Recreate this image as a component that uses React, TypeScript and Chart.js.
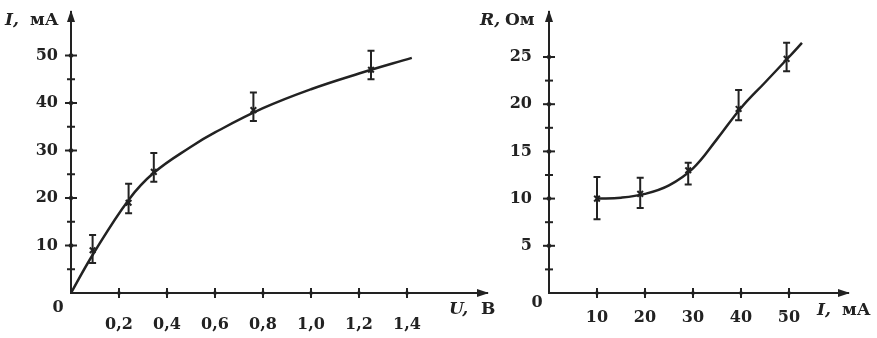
import React, { useEffect, useRef } from "react";
import { Chart, registerables } from "chart.js";

Chart.register(...registerables);

// ---------- Left chart: I (mA) vs U (V) ----------
const uMeasured = [0.09, 0.24, 0.345, 0.76, 1.25];
const iMeasured = [9, 19, 25.5, 38.5, 47];
const iErrLow = [6.3, 16.8, 23.4, 36.2, 45];
const iErrHigh = [12.2, 23, 29.5, 42.2, 51];
const uCurve = [0, 0.09, 0.24, 0.345, 0.5, 0.6, 0.8, 1.0, 1.2, 1.42];
const iCurve = [0, 8, 19.6, 25.3, 30.8, 33.8, 38.9, 42.9, 46.2, 49.5];
const uTicks = [0.2, 0.4, 0.6, 0.8, 1.0, 1.2, 1.4];
const uTickLabels = ["0,2", "0,4", "0,6", "0,8", "1,0", "1,2", "1,4"];
const iTicks = [10, 20, 30, 40, 50];
const iMinorTicks = [5, 15, 25, 35, 45];

// ---------- Right chart: R (Ohm) vs I (mA) ----------
const iMeasured2 = [10, 19, 29, 39.5, 49.5];
const rMeasured = [10, 10.5, 13, 19.5, 24.8];
const rErrLow = [7.8, 9.0, 11.5, 18.3, 23.5];
const rErrHigh = [12.3, 12.2, 13.8, 21.5, 26.5];
const iCurve2 = [10, 15, 20, 25, 30, 35, 40, 45, 50, 52.7];
const rCurve = [10, 10.1, 10.5, 11.4, 13.2, 16.3, 19.6, 22.3, 25, 26.5];
const iTicks2 = [10, 20, 30, 40, 50];
const rTicks = [5, 10, 15, 20, 25];
const rMinorTicks = [2.5, 7.5, 12.5, 17.5, 22.5];

const INK = "#222";
const FONT = "'DejaVu Serif', 'Liberation Serif', serif";

type TitlePart = { text: string; x: number; y: number; italic?: boolean };

type DecorOpts = {
  xMajor: number[];
  yMajor: number[];
  yMinor: number[];
  errX: number[];
  errLo: number[];
  errHi: number[];
  titles: TitlePart[];
  origin: { x: number; y: number };
};

const decorPlugin = {
  id: "decor",
  afterDraw(chart: any, _args: any, opts: DecorOpts) {
    const { ctx } = chart;
    const xs = chart.scales.x;
    const ys = chart.scales.y;
    const ax = xs.left;
    const ay = ys.bottom;
    ctx.save();
    ctx.strokeStyle = INK;
    ctx.fillStyle = INK;
    ctx.lineCap = "butt";

    // arrowheads
    ctx.beginPath();
    ctx.moveTo(xs.right + 2, ay);
    ctx.lineTo(xs.right - 10, ay - 4);
    ctx.lineTo(xs.right - 10, ay + 4);
    ctx.closePath();
    ctx.fill();
    ctx.beginPath();
    ctx.moveTo(ax, ys.top - 2);
    ctx.lineTo(ax - 4, ys.top + 10);
    ctx.lineTo(ax + 4, ys.top + 10);
    ctx.closePath();
    ctx.fill();

    const diamond = (x: number, y: number, r: number) => {
      ctx.beginPath();
      ctx.moveTo(x, y - r);
      ctx.lineTo(x + r * 0.8, y);
      ctx.lineTo(x, y + r);
      ctx.lineTo(x - r * 0.8, y);
      ctx.closePath();
      ctx.fill();
    };

    // x ticks (crossing marks)
    ctx.lineWidth = 2;
    opts.xMajor.forEach((v) => {
      const px = xs.getPixelForValue(v);
      ctx.beginPath();
      ctx.moveTo(px, ay - 5);
      ctx.lineTo(px, ay + 5);
      ctx.stroke();
      diamond(px, ay, 3);
    });
    // y ticks
    opts.yMajor.forEach((v) => {
      const py = ys.getPixelForValue(v);
      ctx.beginPath();
      ctx.moveTo(ax - 6, py);
      ctx.lineTo(ax + 6, py);
      ctx.stroke();
      diamond(ax, py, 3.5);
    });
    opts.yMinor.forEach((v) => {
      const py = ys.getPixelForValue(v);
      ctx.beginPath();
      ctx.moveTo(ax - 4, py);
      ctx.lineTo(ax + 4, py);
      ctx.stroke();
    });

    // error bars
    ctx.lineWidth = 2;
    opts.errX.forEach((v, i) => {
      const px = xs.getPixelForValue(v);
      const lo = ys.getPixelForValue(opts.errLo[i]);
      const hi = ys.getPixelForValue(opts.errHi[i]);
      ctx.beginPath();
      ctx.moveTo(px, lo);
      ctx.lineTo(px, hi);
      ctx.moveTo(px - 3.5, lo);
      ctx.lineTo(px + 3.5, lo);
      ctx.moveTo(px - 3.5, hi);
      ctx.lineTo(px + 3.5, hi);
      ctx.stroke();
    });

    // titles
    ctx.textBaseline = "alphabetic";
    ctx.textAlign = "left";
    opts.titles.forEach((t) => {
      ctx.font = `${t.italic ? "italic " : ""}bold 17px ${FONT}`;
      ctx.fillText(t.text, t.x, t.y);
    });
    ctx.font = `bold 16px ${FONT}`;
    ctx.textAlign = "center";
    ctx.textBaseline = "middle";
    ctx.fillText("0", opts.origin.x, opts.origin.y);
    ctx.restore();
  },
};

function makeConfig(p: {
  curveX: number[];
  curveY: number[];
  measX: number[];
  measY: number[];
  xMax: number;
  yMax: number;
  xTicks: number[];
  xLabels: string[];
  yTicks: number[];
  yWidth: number;
  xHeight: number;
  padRight: number;
  padTop: number;
  xPad: number;
  yPad: number;
  decor: DecorOpts;
}): any {
  const tickFont = { family: FONT, size: 16, weight: "bold" as const };
  const zeroPad = (s: any) => {
    s.paddingTop = 0;
    s.paddingBottom = 0;
    s.paddingLeft = 0;
    s.paddingRight = 0;
  };
  return {
    type: "line",
    data: {
      datasets: [
        {
          data: p.curveX.map((x, i) => ({ x, y: p.curveY[i] })),
          borderColor: INK,
          borderWidth: 2.5,
          pointRadius: 0,
          tension: 0.4,
          fill: false,
        },
        {
          data: p.measX.map((x, i) => ({ x, y: p.measY[i] })),
          showLine: false,
          pointStyle: "crossRot",
          pointRadius: 4,
          borderColor: INK,
          borderWidth: 2,
          backgroundColor: INK,
        },
      ],
    },
    options: {
      responsive: false,
      animation: false,
      devicePixelRatio: 1,
      layout: { padding: { top: p.padTop, right: p.padRight, left: 0, bottom: 0 } },
      plugins: {
        legend: { display: false },
        tooltip: { enabled: false },
        decor: p.decor,
      },
      scales: {
        x: {
          type: "linear",
          min: 0,
          max: p.xMax,
          afterBuildTicks: (s: any) => {
            s.ticks = p.xTicks.map((v) => ({ value: v }));
          },
          afterFit: (s: any) => {
            s.height = p.xHeight;
            zeroPad(s);
          },
          ticks: {
            autoSkip: false,
            maxRotation: 0,
            color: INK,
            font: tickFont,
            padding: p.xPad,
            callback: (_v: any, i: number) => p.xLabels[i],
          },
          grid: { display: true, drawOnChartArea: false, drawTicks: false },
          border: { display: true, color: INK, width: 2 },
        },
        y: {
          type: "linear",
          min: 0,
          max: p.yMax,
          afterBuildTicks: (s: any) => {
            s.ticks = p.yTicks.map((v) => ({ value: v }));
          },
          afterFit: (s: any) => {
            s.width = p.yWidth;
            zeroPad(s);
          },
          ticks: {
            autoSkip: false,
            color: INK,
            font: tickFont,
            padding: p.yPad,
            callback: (v: any) => String(v),
          },
          grid: { display: true, drawOnChartArea: false, drawTicks: false },
          border: { display: true, color: INK, width: 2 },
        },
      },
    },
    plugins: [decorPlugin],
  };
}

const RIGHT_LEFT = 470;

export default function App() {
  const leftRef = useRef<HTMLCanvasElement>(null);
  const rightRef = useRef<HTMLCanvasElement>(null);

  useEffect(() => {
    const left = new Chart(
      leftRef.current!,
      makeConfig({
        curveX: uCurve,
        curveY: iCurve,
        measX: uMeasured,
        measY: iMeasured,
        xMax: 416 / 240,
        yMax: 281 / 4.75,
        xTicks: uTicks,
        xLabels: uTickLabels,
        yTicks: iTicks,
        yWidth: 71,
        xHeight: 45,
        padRight: 9,
        padTop: 12,
        xPad: 22,
        yPad: 13,
        decor: {
          xMajor: uTicks,
          yMajor: iTicks,
          yMinor: iMinorTicks,
          errX: uMeasured,
          errLo: iErrLow,
          errHi: iErrHigh,
          titles: [
            { text: "I,", x: 5, y: 25, italic: true },
            { text: "мА", x: 30, y: 25 },
            { text: "U,", x: 449, y: 314, italic: true },
            { text: "В", x: 481, y: 314 },
          ],
          origin: { x: 58, y: 308 },
        },
      })
    );
    const right = new Chart(
      rightRef.current!,
      makeConfig({
        curveX: iCurve2,
        curveY: rCurve,
        measX: iMeasured2,
        measY: rMeasured,
        xMax: 299 / 4.8,
        yMax: 281 / 9.44,
        xTicks: iTicks2,
        xLabels: iTicks2.map(String),
        yTicks: rTicks,
        yWidth: 549 - RIGHT_LEFT,
        xHeight: 45,
        padRight: 877 - 848,
        padTop: 12,
        xPad: 15,
        yPad: 17,
        decor: {
          xMajor: iTicks2,
          yMajor: rTicks,
          yMinor: rMinorTicks,
          errX: iMeasured2,
          errLo: rErrLow,
          errHi: rErrHigh,
          titles: [
            { text: "R,", x: 480 - RIGHT_LEFT, y: 25, italic: true },
            { text: "Ом", x: 505 - RIGHT_LEFT, y: 25 },
            { text: "I,", x: 817 - RIGHT_LEFT, y: 315, italic: true },
            { text: "мА", x: 842 - RIGHT_LEFT, y: 315 },
          ],
          origin: { x: 537 - RIGHT_LEFT, y: 303 },
        },
      })
    );
    return () => {
      left.destroy();
      right.destroy();
    };
  }, []);

  return (
    <div
      style={{
        position: "fixed",
        left: 0,
        top: 0,
        width: 877,
        height: 338,
        background: "#fff",
        overflow: "hidden",
      }}
    >
      <canvas
        ref={leftRef}
        width={496}
        height={338}
        style={{ position: "absolute", left: 0, top: 0, width: 496, height: 338 }}
      />
      <canvas
        ref={rightRef}
        width={877 - RIGHT_LEFT}
        height={338}
        style={{ position: "absolute", left: RIGHT_LEFT, top: 0, width: 877 - RIGHT_LEFT, height: 338 }}
      />
    </div>
  );
}
